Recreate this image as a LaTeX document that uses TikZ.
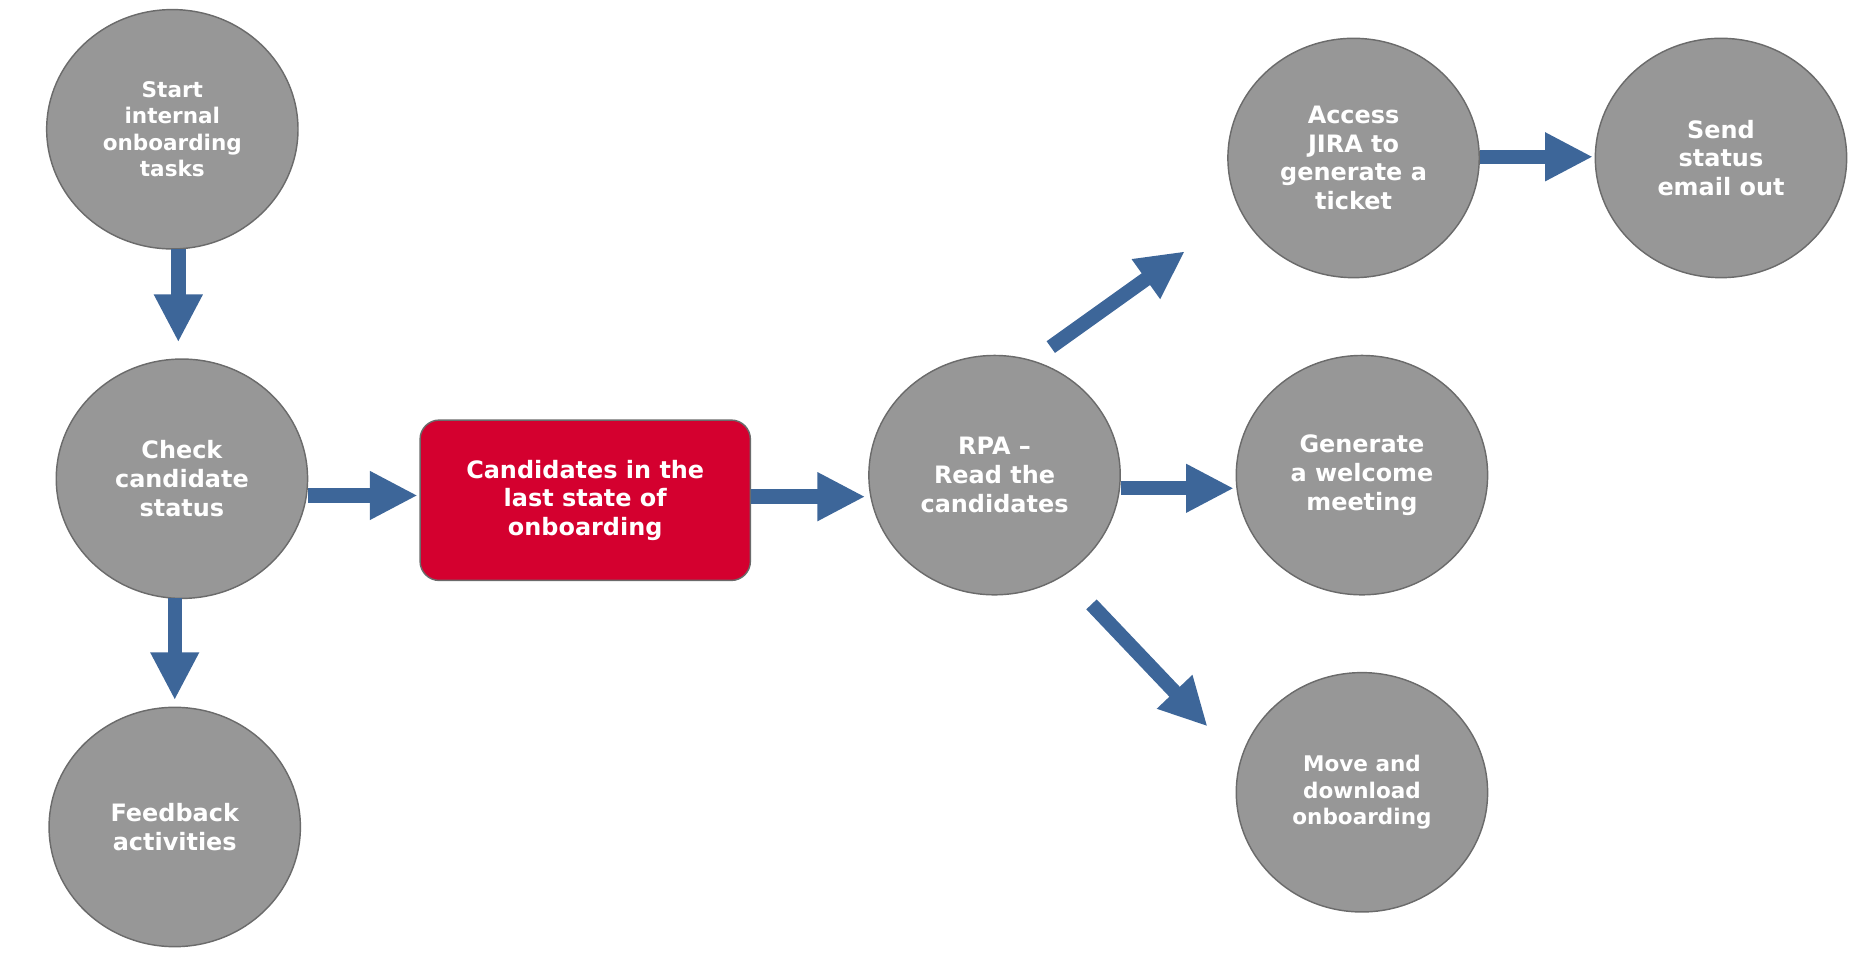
\documentclass[tikz,border=0pt]{standalone}
\usepackage{fontspec}
\setmainfont{DejaVu Sans}
\usetikzlibrary{shapes.geometric,arrows.meta}
\definecolor{cg}{HTML}{979797}
\definecolor{cb}{HTML}{6B6B6B}
\definecolor{ar}{HTML}{3D6699}
\definecolor{rd}{HTML}{D4002F}
\begin{document}
\begin{tikzpicture}[x=0.5pt,y=-0.5pt,
  circ/.style={ellipse,fill=cg,draw=cb,line width=0.6pt,minimum width=105pt,minimum height=100pt,inner sep=0pt,text=white,align=center,font=\bfseries\fontsize{10}{12}\selectfont},
  small/.style={font=\bfseries\fontsize{9}{11}\selectfont},
  arr/.style={draw=ar,line width=6pt,-{Triangle[length=20pt,width=19pt]}}]
\useasboundingbox (0,0) rectangle (1560,804);
\node[circ,small] (start) at (144,108) {Start\\internal\\onboarding\\tasks};
\node[circ] (check) at (152,400) {Check\\candidate\\status};
\node[circ] (feed) at (146,691) {Feedback\\activities};
\node[fill=rd,draw=cb,line width=0.6pt,rounded corners=8pt,minimum width=138pt,minimum height=67pt,text=white,align=center,font=\bfseries\fontsize{10}{12}\selectfont] (cand) at (489,418) {Candidates in the\\last state of\\onboarding};
\node[circ] (rpa) at (831,397) {RPA –\\Read the\\candidates};
\node[circ] (jira) at (1131,132) {Access\\JIRA to\\generate a\\ticket};
\node[circ] (send) at (1438,132) {Send\\status\\email out};
\node[circ] (gen) at (1138,397) {Generate\\a welcome\\meeting};
\node[circ,small] (move) at (1138,662) {Move and\\download\\onboarding};
\coordinate (a1) at (878,290); \coordinate (a2) at (990,210);
\coordinate (b1) at (912,505); \coordinate (b2) at (1009,607);
\draw[arr,shorten >=7] (149,208) -- (149,300);
\draw[arr] (check.east |- 0,414) -- (349,414);
\draw[arr] (cand.east |- 0,415) -- (723,415);
\draw[arr] (a1) -- (a2);
\draw[arr] (rpa.east |- 0,408) -- (1031,408);
\draw[arr] (b1) -- (b2);
\draw[arr] (jira.east |- 0,131) -- (1331,131);
\draw[arr] (146,500) -- (146,585);
\end{tikzpicture}
\end{document}
